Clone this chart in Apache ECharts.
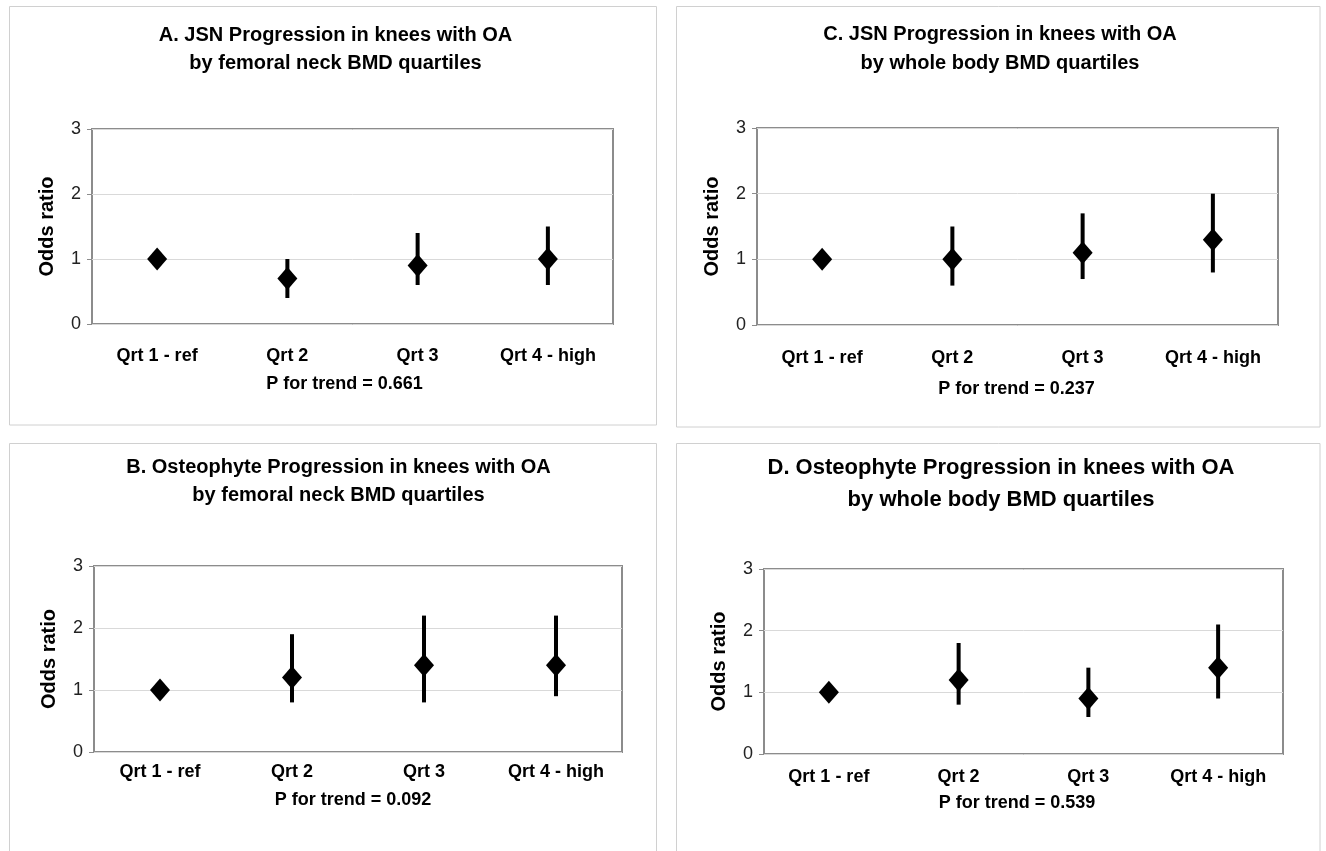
<!DOCTYPE html>
<html>
<head>
<meta charset="utf-8">
<script src="https://cdn.jsdelivr.net/npm/echarts@6/dist/echarts.min.js"></script>
<style>
  html, body { margin: 0; padding: 0; background: #fff; }
  #chart { width: 1326px; height: 851px; }
</style>
</head>
<body>
<div id="chart"></div>
<script>
var categories = ["Qrt 1 - ref", "Qrt 2", "Qrt 3", "Qrt 4 - high"];
var yTickLabels = ["0", "1", "2", "3"];

// A. JSN progression, femoral neck BMD
var oddsA = [1.0, 0.7, 0.9, 1.0];
var lowA = [null, 0.4, 0.6, 0.6];
var highA = [null, 1.0, 1.4, 1.5];
// B. Osteophyte progression, femoral neck BMD
var oddsB = [1.0, 1.2, 1.4, 1.4];
var lowB = [null, 0.8, 0.8, 0.9];
var highB = [null, 1.9, 2.2, 2.2];
// C. JSN progression, whole body BMD
var oddsC = [1.0, 1.0, 1.1, 1.3];
var lowC = [null, 0.6, 0.7, 0.8];
var highC = [null, 1.5, 1.7, 2.0];
// D. Osteophyte progression, whole body BMD
var oddsD = [1.0, 1.2, 0.9, 1.4];
var lowD = [null, 0.8, 0.6, 0.9];
var highD = [null, 1.8, 1.4, 2.1];

var titles = [
  "A. JSN Progression in knees with OA\nby femoral neck BMD quartiles",
  "B. Osteophyte Progression in knees with OA\nby femoral neck BMD quartiles",
  "C. JSN Progression in knees with OA\nby whole body BMD quartiles",
  "D. Osteophyte Progression in knees with OA\nby whole body BMD quartiles"
];
var pTrend = ["P for trend = 0.661", "P for trend = 0.092", "P for trend = 0.237", "P for trend = 0.539"];

var FONT = '"Liberation Sans", Arial, sans-serif';

// layout of each panel (frame, plot area, text positions)
var panels = [
  { odds: oddsA, low: lowA, high: highA,
    frame: [9.5, 6.5, 647, 418.5], grid: [92, 129, 521, 195], labelMargin: 23,
    titleX: 335.5, titleY: 49.5, titleSize: 20, titleLH: 28.5, pX: 344.5, pY: 384 },
  { odds: oddsB, low: lowB, high: highB,
    frame: [9.5, 443.5, 647, 420], grid: [94, 566, 528, 186], labelMargin: 11,
    titleX: 338.5, titleY: 481, titleSize: 20, titleLH: 28, pX: 353, pY: 800 },
  { odds: oddsC, low: lowC, high: highC,
    frame: [676.5, 6.5, 643.5, 420.5], grid: [757, 128, 521, 197], labelMargin: 24,
    titleX: 1000, titleY: 49, titleSize: 20, titleLH: 28.5, pX: 1016.5, pY: 389 },
  { odds: oddsD, low: lowD, high: highD,
    frame: [676.5, 443.5, 643.5, 420], grid: [764, 569, 519, 185], labelMargin: 14,
    titleX: 1001, titleY: 483.5, titleSize: 22, titleLH: 32, pX: 1017, pY: 803 }
];

function errorBar(params, api) {
  var x = api.value(0);
  var p1 = api.coord([x, api.value(1)]);
  var p2 = api.coord([x, api.value(2)]);
  return {
    type: "line",
    shape: { x1: p1[0], y1: p1[1], x2: p2[0], y2: p2[1] },
    style: { stroke: "#000", lineWidth: 4 }
  };
}

var grids = [], xAxes = [], yAxes = [], series = [], graphics = [];

panels.forEach(function (p, i) {
  grids.push({
    left: p.grid[0], top: p.grid[1], width: p.grid[2], height: p.grid[3],
    show: true, borderColor: "#8c8c8c", borderWidth: 2, backgroundColor: "#fff"
  });
  xAxes.push({
    type: "category", gridIndex: i, data: categories,
    axisLine: { show: false },
    axisTick: { show: false },
    axisLabel: { margin: p.labelMargin, color: "#000", fontSize: 18, fontWeight: "bold", fontFamily: FONT }
  });
  yAxes.push({
    type: "value", gridIndex: i, min: 0, max: yTickLabels.length - 1, interval: 1,
    name: "Odds ratio", nameLocation: "middle", nameGap: 35,
    nameTextStyle: { color: "#000", fontSize: 20, fontWeight: "bold", fontFamily: FONT },
    axisLine: { show: false },
    axisTick: { show: true, length: 5, lineStyle: { color: "#8c8c8c", width: 1 } },
    axisLabel: {
      margin: 11, color: "#222", fontSize: 18, fontFamily: FONT,
      formatter: function (v) { return yTickLabels[v]; }
    },
    splitLine: { show: true, lineStyle: { color: "#d9d9d9", width: 1 } }
  });

  var barData = [];
  categories.forEach(function (c, k) {
    if (p.low[k] != null) barData.push([k, p.low[k], p.high[k]]);
  });
  series.push({
    type: "custom", xAxisIndex: i, yAxisIndex: i,
    renderItem: errorBar, encode: { x: 0, y: [1, 2] },
    data: barData, z: 2, silent: true
  });
  series.push({
    type: "scatter", xAxisIndex: i, yAxisIndex: i,
    symbol: "diamond", symbolSize: [20, 23],
    itemStyle: { color: "#000", opacity: 1 },
    data: p.odds, z: 3, silent: true
  });

  graphics.push({
    type: "rect", z: -10,
    shape: { x: p.frame[0], y: p.frame[1], width: p.frame[2], height: p.frame[3] },
    style: { fill: null, stroke: "#d0d0d0", lineWidth: 1 }
  });
  graphics.push({
    type: "text", x: p.titleX, y: p.titleY,
    style: {
      text: titles[i], align: "center", verticalAlign: "middle",
      fontSize: p.titleSize, fontWeight: "bold", fontFamily: FONT,
      lineHeight: p.titleLH, fill: "#000"
    }
  });
  graphics.push({
    type: "text", x: p.pX, y: p.pY,
    style: {
      text: pTrend[i], align: "center", verticalAlign: "middle",
      fontSize: 18, fontWeight: "bold", fontFamily: FONT, fill: "#000"
    }
  });
});

var chart = echarts.init(document.getElementById("chart"));
chart.setOption({
  backgroundColor: "#fff",
  animation: false,
  grid: grids,
  xAxis: xAxes,
  yAxis: yAxes,
  series: series,
  graphic: graphics
});
</script>
</body>
</html>
